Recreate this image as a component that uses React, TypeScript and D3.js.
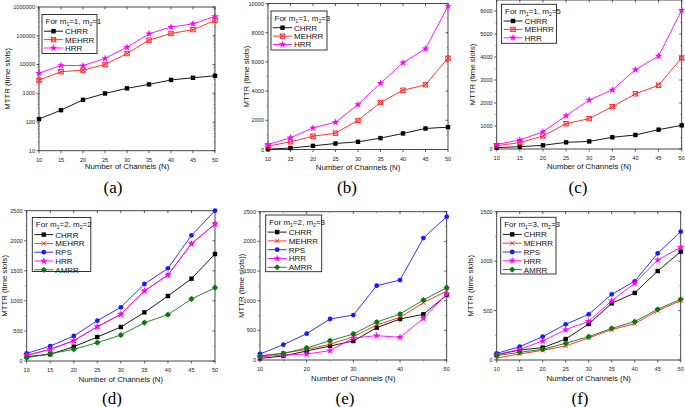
import React from "react";
import * as d3 from "d3";

const channels = [10, 15, 20, 25, 30, 35, 40, 45, 50];

// (a) m1=1, m2=1 (log scale)
const aCHRR = [126, 257, 590, 980, 1480, 2030, 2900, 3450, 4050];
const aMEHRR = [2850, 5600, 6350, 10000, 24000, 70000, 120000, 163000, 340000];
const aHRR = [5000, 9300, 9100, 16300, 40000, 117000, 200000, 260000, 470000];

// (b) m1=1, m2=3
const bCHRR = [20, 100, 250, 410, 525, 780, 1100, 1440, 1530];
const bMEHRR = [230, 525, 910, 1120, 1990, 3220, 4060, 4430, 6260];
const bHRR = [340, 800, 1480, 1870, 3080, 4540, 5940, 6900, 9820];

// (c) m1=1, m2=5
const cCHRR = [60, 100, 160, 290, 330, 510, 610, 840, 1030];
const cMEHRR = [145, 275, 565, 1100, 1320, 1840, 2400, 2770, 3960];
const cHRR = [200, 390, 750, 1450, 2130, 2570, 3450, 4040, 6040];

// (d) m1=2, m2=2
const dCHRR = [72, 111, 238, 399, 565, 809, 1081, 1369, 1780];
const dMEHRR = [94, 194, 338, 571, 776, 1164, 1430, 1951, 2278];
const dRPS = [127, 249, 416, 671, 893, 1281, 1541, 2090, 2500];
const dHRR = [94, 194, 338, 571, 776, 1164, 1430, 1951, 2278];
const dAMRR = [55, 122, 194, 305, 432, 637, 770, 1031, 1219];

// (e) m1=2, m2=3
const eCHRR = [28, 67, 152, 236, 320, 545, 691, 770, 1096];
const eMEHRR = [73, 112, 180, 264, 393, 590, 719, 966, 1163];
const eRPS = [101, 258, 444, 691, 758, 1253, 1348, 2056, 2416];
const eHRR = [51, 84, 101, 157, 371, 410, 382, 702, 1112];
const eAMRR = [67, 112, 202, 326, 438, 640, 775, 1011, 1219];

// (f) m1=3, m2=3
const fCHRR = [54, 101, 125, 212, 364, 573, 678, 900, 1096];
const fMEHRR = [20, 61, 98, 142, 223, 307, 367, 499, 600];
const fRPS = [67, 135, 236, 361, 462, 664, 796, 1079, 1298];
const fHRR = [54, 108, 192, 307, 391, 600, 776, 1011, 1140];
const fAMRR = [44, 78, 108, 169, 236, 320, 388, 513, 614];

const seriesNames3 = ["CHRR", "MEHRR", "HRR"];
const seriesNames5 = ["CHRR", "MEHRR", "RPS", "HRR", "AMRR"];
const drawOrderD = ["MEHRR", "CHRR", "RPS", "HRR", "AMRR"];
const panelLabels = ["(a)", "(b)", "(c)", "(d)", "(e)", "(f)"];
const legendM = [[1, 1], [1, 3], [1, 5], [2, 2], [2, 3], [3, 3]];

const logTicks = [10, 100, 1000, 10000, 100000, 1000000];
const bTicks = [0, 2000, 4000, 6000, 8000, 10000];
const cTicks = [0, 1000, 2000, 3000, 4000, 5000, 6000];
const deTicks = [0, 500, 1000, 1500, 2000, 2500];
const fTicks = [0, 500, 1000, 1500];
const xTicks5 = [10, 15, 20, 25, 30, 35, 40, 45, 50];
const xTicks10 = [10, 20, 30, 40, 50];

const STYLE: Record<string, { color: string; marker: string }> = {
  CHRR: { color: "#000000", marker: "square" },
  MEHRR: { color: "#ff2020", marker: "xsquare" },
  RPS: { color: "#1a1aff", marker: "circle" },
  HRR: { color: "#ff00ff", marker: "star" },
  AMRR: { color: "#0a7a0a", marker: "pcircle" },
};

const FONT = "'Liberation Sans', Arial, sans-serif";

function Marker({ type, x, y, color, cross }: any) {
  if (type === "square")
    return <rect x={x - 2.2} y={y - 2.2} width={4.4} height={4.4} fill={color} />;
  if (type === "xsquare") {
    const s = 2.2;
    return (
      <g stroke={color} strokeWidth={0.9} fill="none">
        {!cross && <rect x={x - s} y={y - s} width={2 * s} height={2 * s} />}
        <line x1={x - s} y1={y - s} x2={x + s} y2={y + s} />
        <line x1={x - s} y1={y + s} x2={x + s} y2={y - s} />
      </g>
    );
  }
  if (type === "circle") return <circle cx={x} cy={y} r={2.4} fill={color} />;
  if (type === "pcircle")
    return (
      <g>
        <circle cx={x} cy={y} r={2.4} fill={color} />
        <line x1={x - 3} x2={x + 3} y1={y} y2={y} stroke={color} strokeWidth={0.8} />
        <line x1={x} x2={x} y1={y - 3} y2={y + 3} stroke={color} strokeWidth={0.8} />
      </g>
    );
  const p = d3.symbol(d3.symbolStar, 18)();
  return <path d={p as string} transform={`translate(${x},${y})`} fill={color} />;
}

function Panel({ cfg }: any) {
  const { x0, x1, y0, y1, log, yDomain, yTicks, yMinor, xTicks, xMinor, series, names, legendNames, idx, legend, yTitle, yTitleX, xTitleY, labelPos, cross } = cfg;
  const x = d3.scaleLinear().domain([10, 50]).range([x0, x1]);
  const y = log
    ? d3.scaleLog().domain(yDomain).range([y1, y0])
    : d3.scaleLinear().domain(yDomain).range([y1, y0]);
  const line = d3
    .line<number>()
    .x((_, i) => x(channels[i]))
    .y((v) => y(v));
  const [m1, m2] = legendM[idx];
  const legNames = legendNames || names;
  const rowH = legNames.length === 3 ? 8.4 : 8.8;
  return (
    <g fontFamily={FONT}>
      <rect x={x0} y={y0} width={x1 - x0} height={y1 - y0} fill="none" stroke="#333" strokeWidth={0.9} />
      {yTicks.map((t: number) => (
        <g key={"yt" + t}>
          <line x1={x0 - 2.5} x2={x0} y1={y(t)} y2={y(t)} stroke="#333" strokeWidth={0.8} />
          <line x1={x1 - 2.5} x2={x1} y1={y(t)} y2={y(t)} stroke="#333" strokeWidth={0.8} />
          <text x={x0 - 4} y={y(t) + 2} fontSize={5.6} textAnchor="end" fill="#222">
            {t}
          </text>
        </g>
      ))}
      {yMinor.map((t: number) => (
        <g key={"ym" + t}>
          <line x1={x0 - 1.5} x2={x0} y1={y(t)} y2={y(t)} stroke="#555" strokeWidth={0.6} />
          <line x1={x1 - 1.5} x2={x1} y1={y(t)} y2={y(t)} stroke="#555" strokeWidth={0.6} />
        </g>
      ))}
      {xTicks.map((t: number) => (
        <g key={"xt" + t}>
          <line x1={x(t)} x2={x(t)} y1={y1} y2={y1 + 2.5} stroke="#333" strokeWidth={0.8} />
          <line x1={x(t)} x2={x(t)} y1={y0} y2={y0 + 2.5} stroke="#333" strokeWidth={0.8} />
          <text x={x(t)} y={y1 + 11} fontSize={5.6} textAnchor="middle" fill="#222">
            {t}
          </text>
        </g>
      ))}
      {xMinor.map((t: number) => (
        <g key={"xm" + t}>
          <line x1={x(t)} x2={x(t)} y1={y1} y2={y1 + 1.5} stroke="#555" strokeWidth={0.6} />
          <line x1={x(t)} x2={x(t)} y1={y0} y2={y0 + 1.5} stroke="#555" strokeWidth={0.6} />
        </g>
      ))}
      {series.map((vals: number[], si: number) => {
        const st = STYLE[names[si]];
        return (
          <g key={"s" + si}>
            <path d={line(vals) as string} fill="none" stroke={st.color} strokeWidth={0.9} />
            {vals.map((v, i) => (
              <Marker key={i} type={st.marker} x={x(channels[i])} y={y(v)} color={st.color} cross={cross} />
            ))}
          </g>
        );
      })}
      <rect x={legend[0]} y={legend[1]} width={legend[2]} height={legend[3]} fill="#fff" stroke="#222" strokeWidth={0.9} />
      <text x={legend[0] + 3.5} y={legend[1] + 9.8} fontSize={8} fill="#111">
        <tspan>For m</tspan>
        <tspan fontSize={5} dy={1.8}>1</tspan>
        <tspan dy={-1.8}>{"=" + m1 + ", m"}</tspan>
        <tspan fontSize={5} dy={1.8}>2</tspan>
        <tspan dy={-1.8}>{"=" + m2}</tspan>
      </text>
      {legNames.map((n: string, i: number) => {
        const st = STYLE[n];
        const ly = legend[1] + 9.5 + rowH * (i + 1) - 1.2;
        const lx = legend[0] + 2;
        return (
          <g key={"l" + n}>
            <line x1={lx} x2={lx + 19} y1={ly} y2={ly} stroke={st.color} strokeWidth={0.9} />
            <Marker type={st.marker} x={lx + 9.5} y={ly} color={st.color} cross={cross} />
            <text x={lx + 21} y={ly + 2.9} fontSize={8} fill="#111">
              {n}
            </text>
          </g>
        );
      })}
      <text
        transform={`translate(${yTitleX},${(y0 + y1) / 2}) rotate(-90)`}
        fontSize={7.8}
        textAnchor="middle"
        fill="#111"
      >
        {yTitle}
      </text>
      <text x={(x0 + x1) / 2} y={xTitleY} fontSize={7.8} textAnchor="middle" fill="#111">
        Number of Channels (N)
      </text>
      <text x={labelPos[0]} y={labelPos[1]} fontSize={17} fontFamily="'Liberation Serif', 'Times New Roman', serif" textAnchor="middle" fill="#000">
        {panelLabels[idx]}
      </text>
    </g>
  );
}

function range(a: number, b: number, s: number) {
  return d3.range(a, b + s / 2, s);
}

export default function App() {
  const logMinor: number[] = [];
  for (let e = 1; e < 6; e++) for (let k = 2; k < 10; k++) logMinor.push(k * Math.pow(10, e));
  const cfgs = [
    { idx: 0, x0: 39, x1: 215, y0: 7, y1: 150.7, log: true, yDomain: [10, 1000000], yTicks: logTicks, yMinor: logMinor, xTicks: xTicks5, xMinor: [], series: [aCHRR, aMEHRR, aHRR], names: seriesNames3, legend: [42, 14.5, 55, 39], yTitle: "MTTR (time slots)", yTitleX: 10, xTitleY: 169, labelPos: [113, 193], cross: false },
    { idx: 1, x0: 268, x1: 448, y0: 3.5, y1: 149.5, log: false, yDomain: [0, 10000], yTicks: bTicks, yMinor: range(1000, 9000, 2000), xTicks: xTicks5, xMinor: [], series: [bCHRR, bMEHRR, bHRR], names: seriesNames3, legend: [271, 11, 56, 39], yTitle: "MTTR (time slots)", yTitleX: 249, xTitleY: 170, labelPos: [347, 193], cross: false },
    { idx: 2, x0: 496.7, x1: 681.7, y0: 0, y1: 149, log: false, yDomain: [0, 6480], yTicks: cTicks, yMinor: range(500, 6000, 1000), xTicks: xTicks5, xMinor: [], series: [cCHRR, cMEHRR, cHRR], names: seriesNames3, legend: [501.5, 4.3, 55, 39], yTitle: "MTTR (time slots)", yTitleX: 475, xTitleY: 169, labelPos: [578, 193], cross: false },
    { idx: 3, x0: 26.7, x1: 215, y0: 210.7, y1: 361, log: false, yDomain: [0, 2500], yTicks: deTicks, yMinor: range(250, 2250, 500), xTicks: xTicks5, xMinor: [], series: [dMEHRR, dCHRR, dRPS, dHRR, dAMRR], names: drawOrderD, legendNames: seriesNames5, legend: [32.3, 217.5, 58.5, 54], yTitle: "MTTR (time slots)", yTitleX: 7, xTitleY: 382, labelPos: [112, 404], cross: true },
    { idx: 4, x0: 260, x1: 446.7, y0: 211.7, y1: 360, log: false, yDomain: [0, 2500], yTicks: deTicks, yMinor: range(250, 2250, 500), xTicks: xTicks10, xMinor: [15, 25, 35, 45], series: [eCHRR, eMEHRR, eRPS, eHRR, eAMRR], names: seriesNames5, legend: [265.7, 215, 56, 56.7], yTitle: "MTTR (time slots))", yTitleX: 244, xTitleY: 381, labelPos: [345, 404], cross: true },
    { idx: 5, x0: 496.7, x1: 680.7, y0: 211.7, y1: 360, log: false, yDomain: [0, 1500], yTicks: fTicks, yMinor: range(250, 1250, 500), xTicks: xTicks5, xMinor: [], series: [fCHRR, fMEHRR, fRPS, fHRR, fAMRR], names: seriesNames5, legend: [500.7, 217.3, 55.3, 56.7], yTitle: "MTTR (time slots)", yTitleX: 473, xTitleY: 381, labelPos: [580, 404], cross: true },
  ];
  return (
    <svg width={685} height={407} style={{ position: "absolute", left: 0, top: 0, background: "#fff" }}>
      <rect width={685} height={407} fill="#fff" />
      {cfgs.map((c) => (
        <Panel key={c.idx} cfg={c} />
      ))}
    </svg>
  );
}
